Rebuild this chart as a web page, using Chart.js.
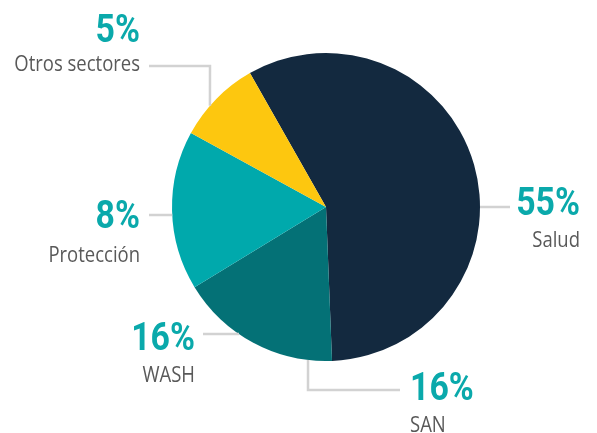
<!DOCTYPE html>
<html>
<head>
<meta charset="utf-8">
<script src="https://cdn.jsdelivr.net/npm/chart.js@4.4.0/dist/chart.umd.min.js"></script>
<style>
  html, body { margin: 0; padding: 0; background: #fff; }
  #chart { display: block; }
</style>
</head>
<body>
<canvas id="chart" width="597" height="433"></canvas>
<script>
// slices as drawn in the picture (clockwise from the top-left)
const sliceNames = ['Salud', 'SAN y WASH', 'Protección', 'Otros sectores'];
const sliceValues = [57.6, 16.9, 16.7, 8.8];
const sliceColors = ['#13293f', '#047176', '#00a9ac', '#fdc70f'];

// callout texts
const calloutNames = ['Otros sectores', 'Protección', 'WASH', 'SAN', 'Salud'];
const calloutPercents = ['5%', '8%', '16%', '16%', '55%'];

// where each callout sits (angle on the pie edge, leader path, text anchors)
const calloutLayout = [
    { angle: 311.1, path: [[210, 66], [149, 66]], x: 140, pctY: 42, nameY: 71, align: 'right' },
    { angle: 267, path: [[149, 215]], x: 140, pctY: 228, nameY: 262, align: 'right' },
    { angle: 214.4, path: [[203, 334]], x: 195, pctY: 350, nameY: 382, align: 'right' },
    { angle: 186.7, path: [[308, 390], [400, 390]], x: 410, pctY: 400, nameY: 432, align: 'left' },
    { angle: 90, path: [[510, 207]], x: 580, pctY: 215, nameY: 247, align: 'right' },
];

function drawText(ctx, text, x, y, font, color, align, sx) {
    ctx.save();
    ctx.translate(x, y);
    ctx.scale(sx, 1);
    ctx.font = font;
    ctx.fillStyle = color;
    ctx.textAlign = align;
    ctx.textBaseline = 'alphabetic';
    ctx.fillText(text, 0, 0);
    ctx.restore();
}

const calloutPlugin = {
    id: 'callouts',
    afterDraw(chart) {
        const ctx = chart.ctx;
        const arc = chart.getDatasetMeta(0).data[0];
        const cx = arc.x, cy = arc.y, r = arc.outerRadius;

        calloutLayout.forEach((c, i) => {
            const a = c.angle * Math.PI / 180;
            const sx = cx + r * Math.sin(a);
            const sy = cy - r * Math.cos(a);

            ctx.save();
            ctx.strokeStyle = '#d2d2d2';
            ctx.lineWidth = 2.5;
            ctx.beginPath();
            ctx.moveTo(sx, sy);
            c.path.forEach(p => ctx.lineTo(p[0], p[1]));
            ctx.stroke();
            ctx.restore();

            drawText(ctx, calloutPercents[i], c.x, c.pctY, 'bold 38px Roboto', '#0aa9ab', c.align, 0.89);
            drawText(ctx, calloutNames[i], c.x, c.nameY, '21px "Open Sans"', '#595959', c.align, 0.88);
        });
    }
};

const ctx = document.getElementById('chart').getContext('2d');
new Chart(ctx, {
    type: 'pie',
    data: {
        labels: sliceNames,
        datasets: [{
            data: sliceValues,
            backgroundColor: sliceColors,
            borderWidth: 0,
            hoverOffset: 0
        }]
    },
    options: {
        responsive: false,
        animation: false,
        rotation: -29.6,
        layout: {
            padding: { left: 172, right: 117, top: 53, bottom: 72 }
        },
        plugins: {
            legend: { display: false },
            tooltip: { enabled: false }
        }
    },
    plugins: [calloutPlugin]
});
</script>
</body>
</html>
